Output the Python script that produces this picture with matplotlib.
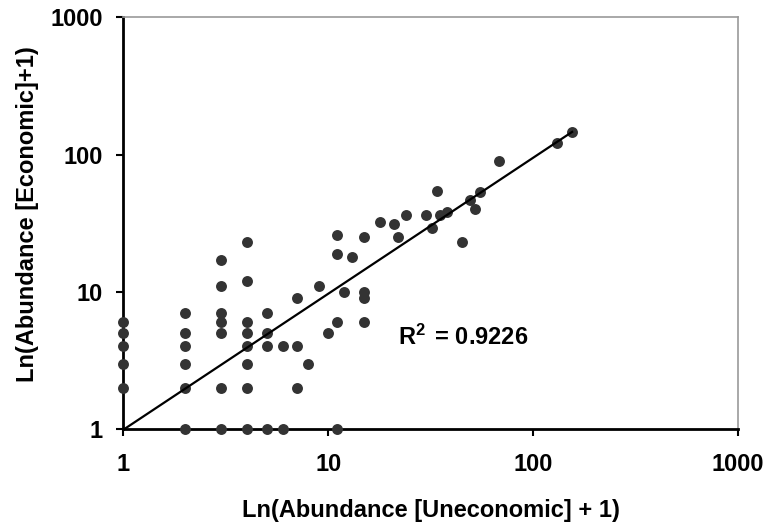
import matplotlib
matplotlib.use("Agg")
import matplotlib.pyplot as plt
from matplotlib.ticker import FixedLocator, FixedFormatter, NullLocator
import numpy as np

# Data: (Uneconomic abundance + 1, Economic abundance + 1)
uneconomic = [1, 1, 1, 1, 1,
              2, 2, 2, 2, 2, 2,
              3, 3, 3, 3, 3, 3, 3,
              4, 4, 4, 4, 4, 4, 4, 4,
              5, 5, 5, 5,
              6, 6,
              7, 7, 7,
              8, 9, 10,
              11, 11, 11, 11,
              12, 13,
              15, 15, 15, 15,
              18, 21, 22, 24, 30, 32, 34, 35, 38, 45, 49, 52, 55, 68, 131, 155]
economic = [2, 3, 4, 5, 6,
            1, 2, 3, 4, 5, 7,
            1, 2, 5, 6, 7, 11, 17,
            1, 2, 3, 4, 5, 6, 12, 23,
            1, 4, 5, 7,
            1, 4,
            2, 4, 9,
            3, 11, 5,
            1, 6, 19, 26,
            10, 18,
            6, 9, 10, 25,
            32, 31, 25, 36, 36, 29, 54, 36, 38, 23, 47, 40, 53, 90, 121, 146]

# Power trendline y = a * x^b
trend_a = 0.99
trend_b = 0.99
trend_x_range = [1, 157]
r2_text = "R$^{2\\,}$ = 0.9226"

tick_values = [1, 10, 100, 1000]
tick_labels = ["1", "10", "100", "1000"]

plt.rcParams['font.family'] = ['Liberation Sans', 'DejaVu Sans']
plt.rcParams['font.weight'] = 'bold'
plt.rcParams['mathtext.default'] = 'regular'

fig = plt.figure(figsize=(7.68, 5.23), dpi=100)
ax = fig.add_axes([0.1608, 0.1797, 0.7997, 0.7872])

ax.set_xscale('log')
ax.set_yscale('log')
ax.set_xlim(1, 1000)
ax.set_ylim(1, 1000)

ax.scatter(uneconomic, economic, s=62, color='#333333', zorder=3, clip_on=False, linewidths=0)

tx = np.array(trend_x_range, dtype=float)
ax.plot(tx, trend_a * tx ** trend_b, color='black', lw=1.6, zorder=4, solid_capstyle='butt')

ax.text(21.9, 4.1, r2_text, fontsize=17, fontweight='bold', ha='left', va='baseline')

for axis in (ax.xaxis, ax.yaxis):
    axis.set_major_locator(FixedLocator(tick_values))
    axis.set_major_formatter(FixedFormatter(tick_labels))
    axis.set_minor_locator(NullLocator())

ax.tick_params(axis='both', which='major', direction='out', length=5, width=1.5,
               labelsize=17, color='black')
ax.tick_params(axis='x', pad=12)
ax.tick_params(axis='y', pad=10)
for lbl in ax.get_xticklabels() + ax.get_yticklabels():
    lbl.set_fontweight('bold')

ax.spines['left'].set_color('black')
ax.spines['bottom'].set_color('black')
ax.spines['left'].set_linewidth(2)
ax.spines['bottom'].set_linewidth(2)
ax.spines['top'].set_color('#999999')
ax.spines['right'].set_color('#999999')
ax.spines['top'].set_linewidth(1.2)
ax.spines['right'].set_linewidth(1.2)

ax.set_xlabel("Ln(Abundance [Uneconomic] + 1)", fontsize=17, fontweight='bold')
ax.set_ylabel("Ln(Abundance [Economic]+1)", fontsize=17, fontweight='bold')
ax.xaxis.label.set_va('center')
ax.xaxis.set_label_coords(0.5, -0.197)
ax.yaxis.label.set_va('center')
ax.yaxis.set_label_coords(-0.157, 0.521)

fig.savefig("out.png", dpi=100)
